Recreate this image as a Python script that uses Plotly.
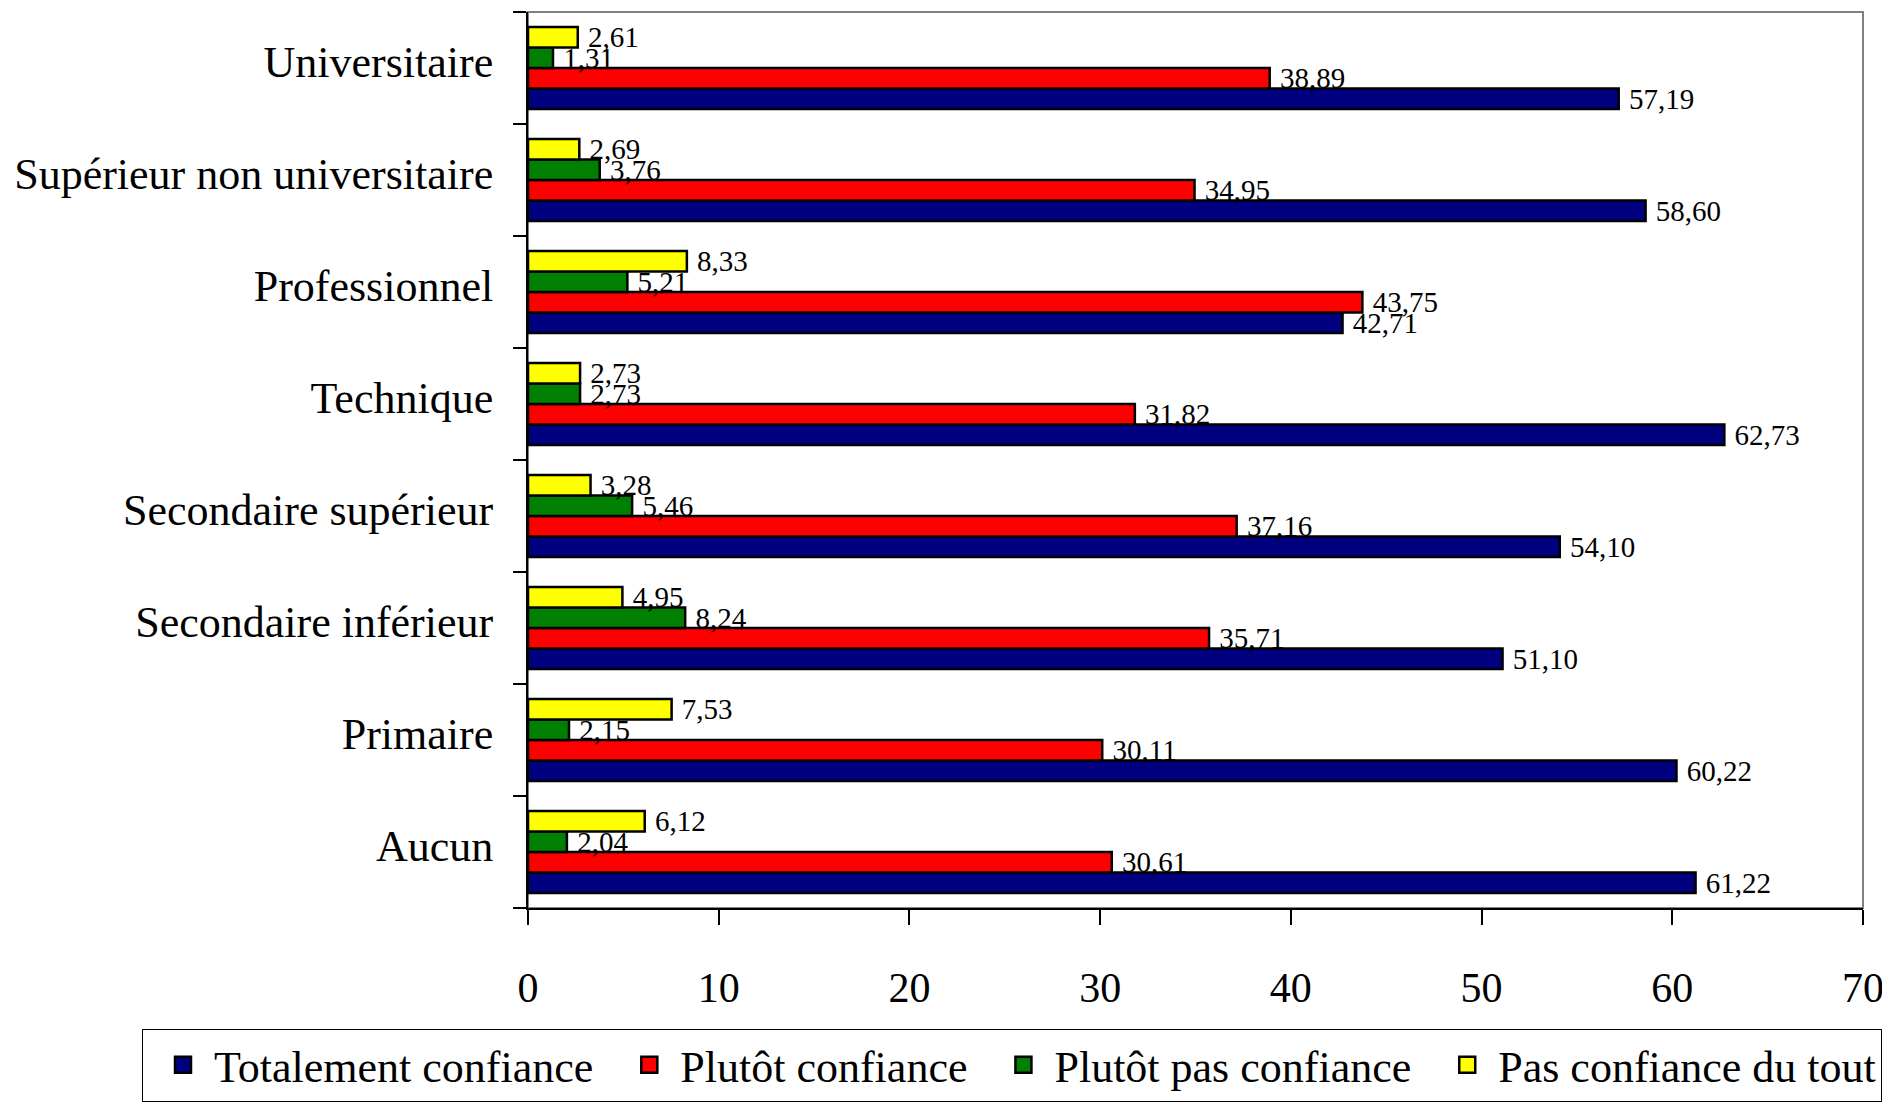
import plotly.graph_objects as go

# ---- data ----
categories = ["Aucun", "Primaire", "Secondaire inférieur", "Secondaire supérieur",
              "Technique", "Professionnel", "Supérieur non universitaire", "Universitaire"]
totalement_confiance = [61.22, 60.22, 51.10, 54.10, 62.73, 42.71, 58.60, 57.19]
plutot_confiance = [30.61, 30.11, 35.71, 37.16, 31.82, 43.75, 34.95, 38.89]
plutot_pas_confiance = [2.04, 2.15, 8.24, 5.46, 2.73, 5.21, 3.76, 1.31]
pas_confiance_du_tout = [6.12, 7.53, 4.95, 3.28, 2.73, 8.33, 2.69, 2.61]
series_names = ["Totalement confiance", "Plutôt confiance",
                "Plutôt pas confiance", "Pas confiance du tout"]
x_ticks = [0, 10, 20, 30, 40, 50, 60, 70]

series_values = [totalement_confiance, plutot_confiance,
                 plutot_pas_confiance, pas_confiance_du_tout]
colors = ["#000080", "#FF0000", "#008000", "#FFFF00"]
FONT = "Liberation Serif, Times New Roman, serif"

# page has an 8px body margin: size the figure so it fits the 1890x1114 window
OFF = 8
W, H = 1890 - 2 * OFF, 1114 - 2 * OFF
L, T = 528 - OFF, 12 - OFF
R = W - (1863 - OFF)
B = H - (918 - OFF)
PW, PH = W - L - R, H - T - B


def fmt(v):
    return "\u00a0" + f"{v:.2f}".replace(".", ",")


fig = go.Figure()
for name, vals, col in zip(series_names, series_values, colors):
    fig.add_trace(go.Bar(
        y=categories, x=vals, orientation="h", name=name,
        marker=dict(color=col, line=dict(color="black", width=2.5)),
        text=[fmt(v) for v in vals], textposition="outside",
        constraintext="none", cliponaxis=False,
        textfont=dict(family=FONT, size=29, color="black"),
        showlegend=False, hoverinfo="skip",
    ))
# legend entries (larger square symbols)
trailing = [1, 1, 1, 0]
for name, col, k in zip(series_names, colors, trailing):
    label = "\u00a0" + name + "\u00a0" * k
    fig.add_trace(go.Scatter(
        x=[None], y=[None], mode="markers", name=label,
        marker=dict(symbol="square", size=16, color=col,
                    line=dict(color="black", width=2.5)),
        hoverinfo="skip",
    ))

fig.add_shape(type="rect", xref="x domain", yref="y domain",
              x0=0, x1=1, y0=0, y1=1, layer="below",
              line=dict(color="#808080", width=2))

fig.update_layout(
    width=W, height=H, autosize=False,
    margin=dict(l=L, r=R, t=T, b=B),
    paper_bgcolor="white", plot_bgcolor="white",
    barmode="group", bargap=0.267, bargroupgap=0,
    font=dict(family=FONT, color="black", size=42),
    legend=dict(
        orientation="h", xref="paper", yref="paper",
        x=(142 - OFF - L) / PW, y=-(1040 - OFF - (H - B)) / PH,
        xanchor="left", yanchor="top",
        bordercolor="black", borderwidth=1, bgcolor="white",
        font=dict(family=FONT, size=44, color="black"),
        itemsizing="trace", indentation=20,
    ),
    xaxis=dict(
        range=[0, 70], tickvals=x_ticks, ticktext=[str(t) for t in x_ticks],
        showgrid=False, zeroline=False, showline=True,
        linecolor="black", linewidth=2, automargin=False,
        ticks="outside", ticklen=15, tickwidth=1.5, tickcolor="black",
        tickfont=dict(family=FONT, size=42, color="black"),
        ticklabelstandoff=27, ticklabeloverflow="allow", fixedrange=True,
    ),
    yaxis=dict(
        type="category", categoryorder="array", categoryarray=categories,
        showgrid=False, zeroline=False, showline=True,
        linecolor="black", linewidth=2, automargin=False,
        ticks="outside", ticklen=13, tickwidth=1.5, tickcolor="black",
        tickson="boundaries",
        tickfont=dict(family=FONT, size=44, color="black"),
        ticklabelstandoff=24, ticklabelshift=-6, fixedrange=True,
    ),
)

fig.write_html("out.html")
